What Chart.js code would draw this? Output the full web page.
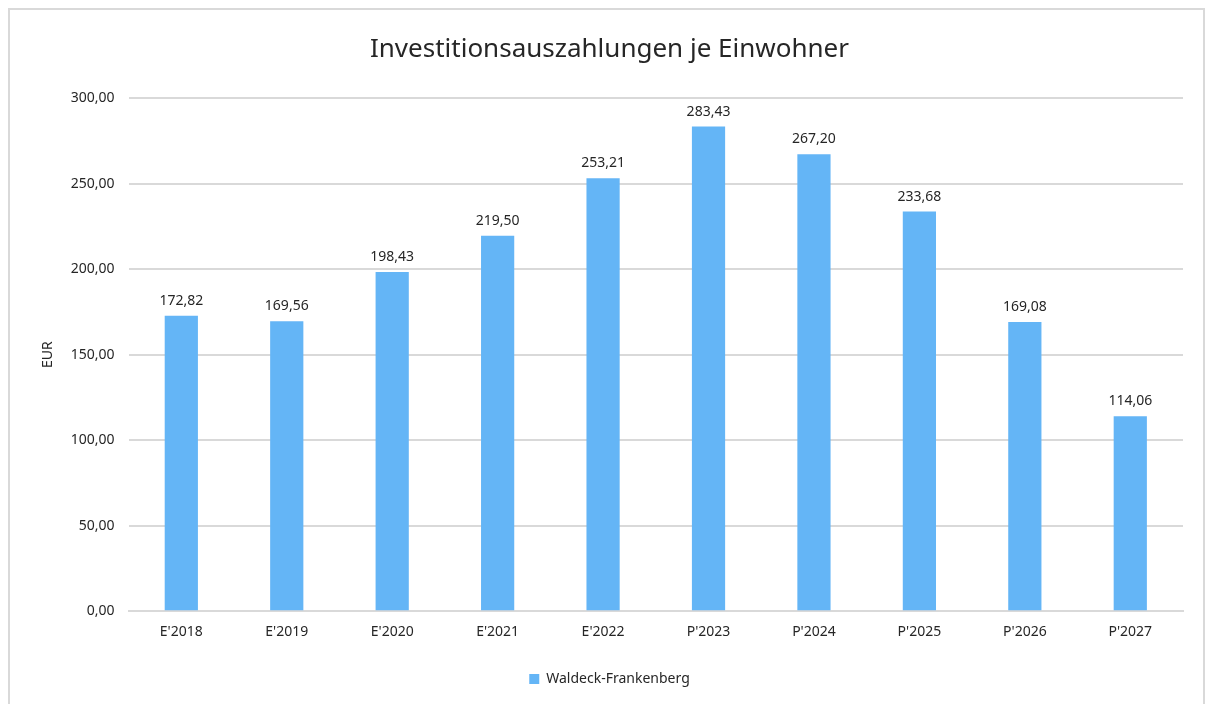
<!DOCTYPE html>
<html>
<head>
<meta charset="utf-8">
<script src="https://cdn.jsdelivr.net/npm/chart.js@4"></script>
<style>
    body { margin: 0; background: #fff; }
    #frame {
        position: absolute; left: 8px; top: 8px;
        width: 1197px; height: 700px;
        border-left: 2px solid #d9d9d9; border-top: 2px solid #d9d9d9; border-right: 2px solid #d9d9d9;
        box-sizing: border-box;
    }
    #wrap { position: absolute; left: 0; top: 0; width: 1207px; height: 704px; }
</style>
</head>
<body>
<div id="frame"></div>
<div id="wrap"><canvas id="chart" width="1207" height="704"></canvas></div>
<script>
// Chart data
const categories = ["E'2018", "E'2019", "E'2020", "E'2021", "E'2022", "P'2023", "P'2024", "P'2025", "P'2026", "P'2027"];
const values = [172.82, 169.56, 198.43, 219.50, 253.21, 283.43, 267.20, 233.68, 169.08, 114.06];
const seriesName = 'Waldeck-Frankenberg';

const fontFamily = "'Noto Sans', 'Open Sans', sans-serif";

function fmt(v) {
    return v.toFixed(2).replace('.', ',');
}

// Draws the value above each bar
const valueLabels = {
    id: 'valueLabels',
    afterDatasetsDraw(chart) {
        const ctx = chart.ctx;
        const meta = chart.getDatasetMeta(0);
        ctx.save();
        ctx.font = '14px ' + fontFamily;
        ctx.fillStyle = '#262626';
        ctx.textAlign = 'center';
        ctx.textBaseline = 'bottom';
        meta.data.forEach((bar, i) => {
            ctx.fillText(fmt(values[i]), bar.x, bar.y - 8);
        });
        ctx.restore();
    }
};

const ctx = document.getElementById('chart').getContext('2d');
new Chart(ctx, {
    type: 'bar',
    data: {
        labels: categories,
        datasets: [{
            label: seriesName,
            data: values,
            backgroundColor: '#64b5f6',
            barPercentage: 0.63,
            categoryPercentage: 0.5
        }]
    },
    options: {
        responsive: false,
        animation: false,
        layout: { padding: { left: 36, right: 24, top: 26, bottom: 8 } },
        plugins: {
            title: {
                display: true,
                text: 'Investitionsauszahlungen je Einwohner',
                color: '#262626',
                font: { family: fontFamily, size: 26, weight: 'normal' },
                padding: { top: 8, bottom: 33 }
            },
            legend: {
                position: 'bottom',
                labels: {
                    color: '#262626',
                    boxWidth: 10,
                    boxHeight: 10,
                    padding: 20,
                    font: { family: fontFamily, size: 14 }
                }
            },
            tooltip: { enabled: false }
        },
        scales: {
            x: {
                grid: { display: false, drawTicks: false },
                border: { color: '#d9d9d9', width: 2 },
                ticks: { color: '#262626', padding: 12, font: { family: fontFamily, size: 14 } }
            },
            y: {
                min: 0,
                max: 300,
                ticks: {
                    stepSize: 50,
                    color: '#262626',
                    padding: 14,
                    font: { family: fontFamily, size: 14 },
                    callback: v => fmt(v)
                },
                grid: { color: '#d9d9d9', lineWidth: 2, drawTicks: false },
                border: { display: false },
                title: {
                    display: true,
                    text: 'EUR',
                    color: '#262626',
                    font: { family: fontFamily, size: 14 },
                    padding: { bottom: 0 }
                }
            }
        }
    },
    plugins: [valueLabels]
});
</script>
</body>
</html>
